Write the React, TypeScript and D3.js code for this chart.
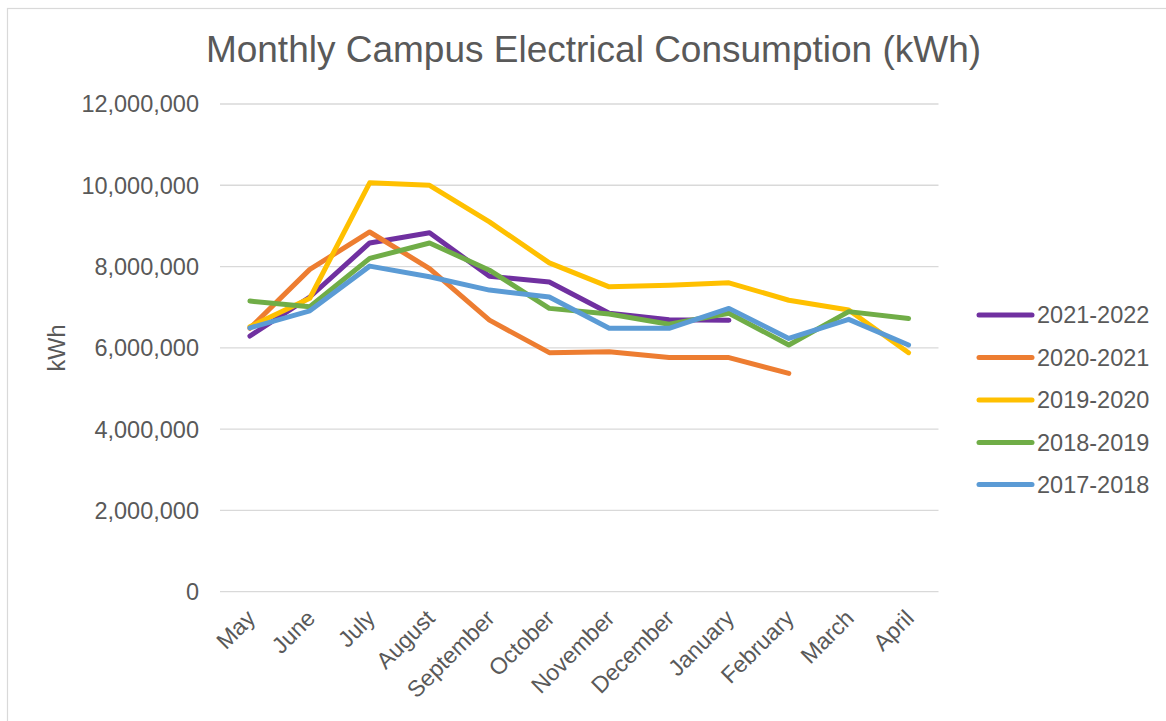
import React from "react";
import * as d3 from "d3";

const months = ["May", "June", "July", "August", "September", "October", "November", "December", "January", "February", "March", "April"];
const seriesNames = ["2021-2022", "2020-2021", "2019-2020", "2018-2019", "2017-2018"];
const seriesColors = ["#7030A0", "#ED7D31", "#FFC000", "#70AD47", "#5B9BD5"];
const s2021_2022 = [6290000, 7250000, 8580000, 8830000, 7760000, 7620000, 6850000, 6690000, 6680000];
const s2020_2021 = [6480000, 7930000, 8850000, 7950000, 6680000, 5880000, 5900000, 5760000, 5760000, 5370000];
const s2019_2020 = [6520000, 7220000, 10060000, 10000000, 9100000, 8090000, 7500000, 7540000, 7600000, 7170000, 6930000, 5880000];
const s2018_2019 = [7150000, 7010000, 8200000, 8580000, 7910000, 6970000, 6830000, 6580000, 6850000, 6070000, 6890000, 6720000];
const s2017_2018 = [6490000, 6910000, 8010000, 7750000, 7420000, 7250000, 6480000, 6480000, 6970000, 6230000, 6700000, 6070000];
const yTicks = [0, 2000000, 4000000, 6000000, 8000000, 10000000, 12000000];

const allSeries = [s2021_2022, s2020_2021, s2019_2020, s2018_2019, s2017_2018];

export default function App() {
  const W = 1166, H = 721;
  const left = 220, right = 938.5, top = 104, bottom = 591.6;
  const x = d3.scalePoint<string>().domain(months).range([left, right]).padding(0.5);
  const y = d3.scaleLinear().domain([0, 12000000]).range([bottom, top]);
  const line = d3.line<number>().x((_, i) => x(months[i]) as number).y((d) => y(d));
  const fmt = d3.format(",");
  const font = "'Liberation Sans', Arial, sans-serif";
  const txt = "#595959";
  const legendY = [315, 357.5, 400, 442.5, 484.5];

  return (
    <svg width={W} height={H} style={{ position: "absolute", left: 0, top: 0 }} fontFamily={font}>
      <rect x={0} y={0} width={W} height={H} fill="#fff" />
      <rect x={7.5} y={8.5} width={W + 20} height={H + 20} fill="none" stroke="#d9d9d9" strokeWidth={1.2} />
      <text x={593.5} y={62} textAnchor="middle" fontSize={37} fill={txt}>
        Monthly Campus Electrical Consumption (kWh)
      </text>
      {yTicks.map((t) => (
        <g key={t}>
          <line x1={left} x2={right} y1={y(t)} y2={y(t)} stroke="#d9d9d9" strokeWidth={1.3} />
          <text x={199} y={y(t)} dy="0.36em" textAnchor="end" fontSize={23.5} fill={txt}>
            {fmt(t)}
          </text>
        </g>
      ))}
      <text transform={`translate(65,348) rotate(-90)`} textAnchor="middle" fontSize={23.5} fill={txt}>
        kWh
      </text>
      {months.map((m) => (
        <text
          key={m}
          transform={`translate(${(x(m) as number) + 1},614) rotate(-45)`}
          textAnchor="end"
          dy="0.35em"
          fontSize={23}
          fill={txt}
        >
          {m}
        </text>
      ))}
      {allSeries.map((s, i) => (
        <path
          key={seriesNames[i]}
          d={line(s) || ""}
          fill="none"
          stroke={seriesColors[i]}
          strokeWidth={5}
          strokeLinejoin="round"
          strokeLinecap="round"
        />
      ))}
      {seriesNames.map((n, i) => (
        <g key={n}>
          <line x1={979} x2={1032} y1={legendY[i]} y2={legendY[i]} stroke={seriesColors[i]} strokeWidth={5} strokeLinecap="round" />
          <text x={1037} y={legendY[i]} dy="0.36em" fontSize={23.5} fill={txt}>
            {n}
          </text>
        </g>
      ))}
    </svg>
  );
}
